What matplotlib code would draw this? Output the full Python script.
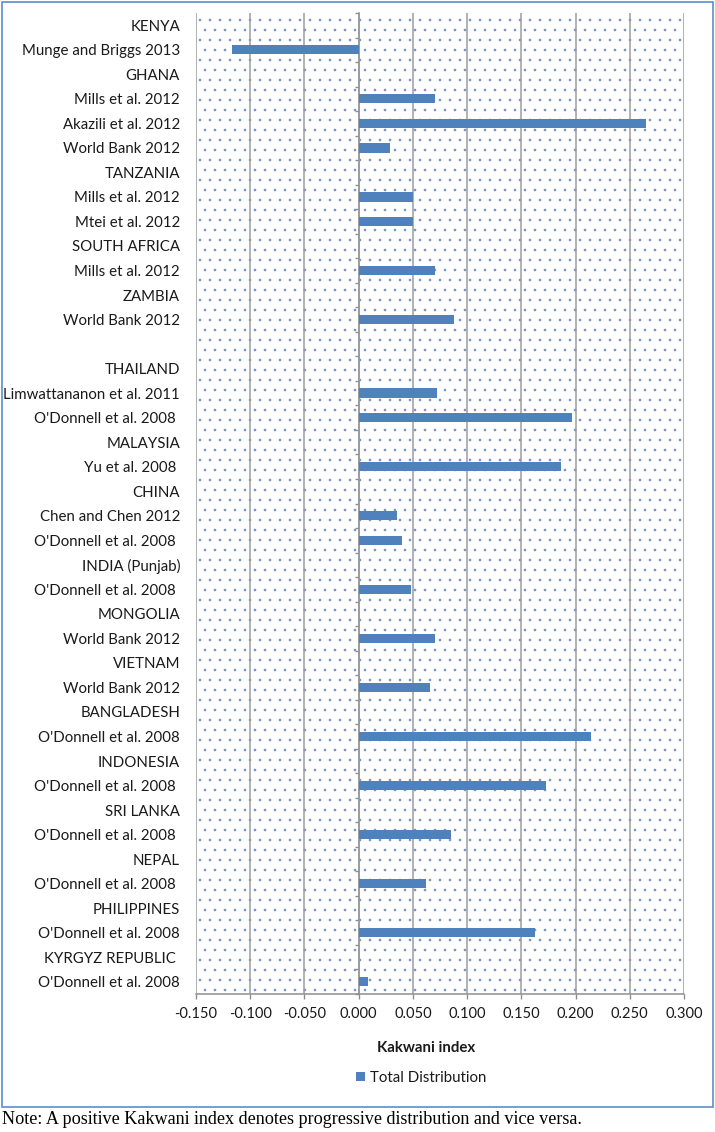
import matplotlib.pyplot as plt
from matplotlib.patches import Rectangle

# rows from top to bottom ("" = blank spacer row)
labels = ["KENYA", "Munge and Briggs 2013", "GHANA", "Mills et al. 2012",
          "Akazili et al. 2012", "World Bank 2012", "TANZANIA", "Mills et al. 2012",
          "Mtei et al. 2012", "SOUTH AFRICA", "Mills et al. 2012", "ZAMBIA",
          "World Bank 2012", "", "THAILAND", "Limwattananon et al. 2011",
          "O'Donnell et al. 2008 ", "MALAYSIA", "Yu et al. 2008 ", "CHINA",
          "Chen and Chen 2012", "O'Donnell et al. 2008 ", "INDIA (Punjab)",
          "O'Donnell et al. 2008 ", "MONGOLIA", "World Bank 2012", "VIETNAM",
          "World Bank 2012", "BANGLADESH", "O'Donnell et al. 2008", "INDONESIA",
          "O'Donnell et al. 2008 ", "SRI LANKA", "O'Donnell et al. 2008 ", "NEPAL",
          "O'Donnell et al. 2008 ", "PHILIPPINES", "O'Donnell et al. 2008",
          "KYRGYZ REPUBLIC ", "O'Donnell et al. 2008"]
kakwani = [0, -0.117, 0, 0.070, 0.265, 0.029, 0, 0.050, 0.050, 0, 0.070, 0,
           0.088, 0, 0, 0.072, 0.197, 0, 0.187, 0, 0.035, 0.040, 0, 0.048, 0,
           0.070, 0, 0.066, 0, 0.214, 0, 0.173, 0, 0.085, 0, 0.062, 0, 0.163,
           0, 0.009]
xticks = [-0.15, -0.10, -0.05, 0.0, 0.05, 0.10, 0.15, 0.20, 0.25, 0.30]

W, H, DPI = 715, 1132, 120
plt.rcParams['font.family'] = ['Lato', 'DejaVu Sans']
plt.rcParams['hatch.linewidth'] = 0.35

fig = plt.figure(figsize=(W / DPI, H / DPI), dpi=DPI)
ax = fig.add_axes([196 / W, 1 - 994 / H, (684 - 196) / W, (994 - 13) / H])

# dotted background pattern
ax.patch.set_facecolor('white')
ax.patch.set_hatch('..')
ax.patch.set_edgecolor('#6a8cc0')
ax.patch.set_linewidth(0)

ypos = list(range(len(labels)))
bars = ax.barh(ypos, kakwani, height=0.38, color='#4f81bd', zorder=3,
               label='Total Distribution')

ax.set_xlim(-0.15, 0.30)
ax.set_ylim(len(labels) - 0.5, -0.5)
ax.set_xticks(xticks)
ax.set_xticklabels([f"{v:.3f}" for v in xticks])
ax.set_yticks(ypos)
ax.set_yticklabels(labels)
ax.tick_params(axis='y', length=0, pad=9.6, labelsize=9, labelcolor='#1a1a1a')
ax.tick_params(axis='x', direction='out', length=3, width=0.8, color='#8c8c8c',
               pad=5, labelsize=8.8, labelcolor='#1a1a1a')
ax.grid(axis='x', color='#9a9a9a', linewidth=0.9, zorder=1)
ax.set_axisbelow(True)
for s in ['top', 'right', 'left']:
    ax.spines[s].set_visible(False)
ax.spines['bottom'].set_color('#8c8c8c')
ax.spines['bottom'].set_linewidth(0.9)

# category axis crossing at zero, ticks between categories
zero_frac = (0 - (-0.15)) / 0.45
sec = ax.secondary_yaxis(zero_frac)
sec.set_yticks([i - 0.5 for i in range(len(labels) + 1)])
sec.set_yticklabels([])
sec.tick_params(length=2.5, width=0.8, color='#8c8c8c', direction='out')
sec.spines['left'].set_color('#8c8c8c')
sec.spines['left'].set_linewidth(0.9)
sec.spines['right'].set_visible(False)

fig.text(426 / W, 1 - 1048 / H, 'Kakwani index', ha='center', va='center',
         fontsize=9, fontweight='bold', color='#1a1a1a')
fig.legend(handles=[bars], loc='center', bbox_to_anchor=(421 / W, 1 - 1078 / H),
           frameon=False, fontsize=9, handlelength=0.6, handleheight=0.6,
           handletextpad=0.3, labelcolor='#1a1a1a')

fig.patches.append(Rectangle((1.5 / W, 1 - 1107 / H), 711.5 / W, 1105 / H,
                             transform=fig.transFigure, fill=False,
                             edgecolor='#5f8dca', linewidth=1.0))
fig.text(2 / W, 1 - 1120 / H,
         'Note: A positive Kakwani index denotes progressive distribution and vice versa.',
         ha='left', va='center', fontsize=10.9, family='Liberation Serif')

fig.savefig('out.png', dpi=DPI)
